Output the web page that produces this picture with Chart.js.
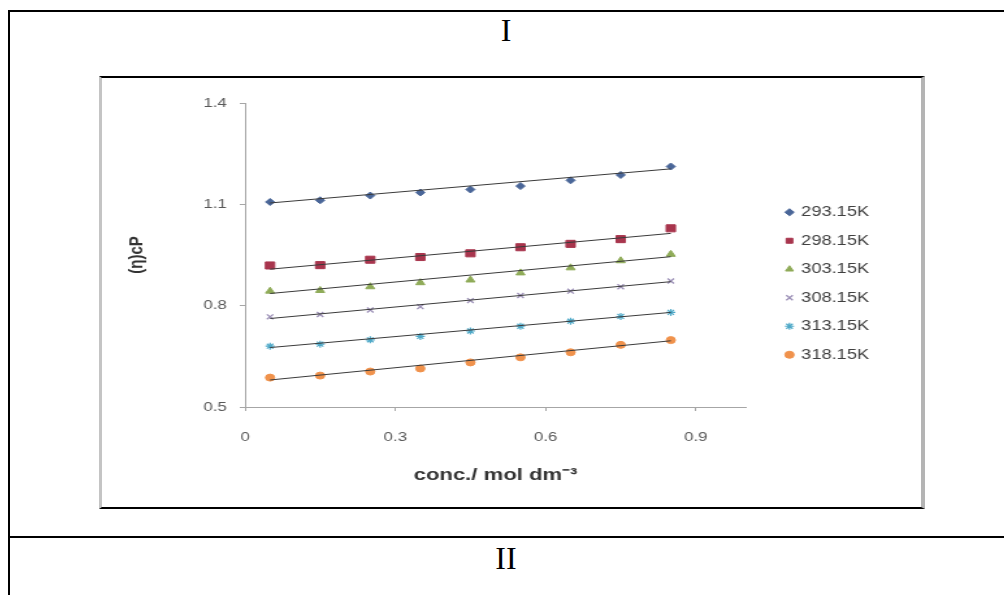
<!DOCTYPE html>
<html>
<head>
<meta charset="utf-8">
<script src="https://cdn.jsdelivr.net/npm/chart.js@4/dist/chart.umd.min.js"></script>
<style>
html,body{margin:0;padding:0;background:#fff;}
body{width:1004px;height:595px;overflow:hidden;position:relative;}
.hl{position:absolute;background:#000;}
.lbl{position:absolute;left:8px;width:996px;text-align:center;font-family:'Liberation Serif','Times New Roman',serif;font-size:32px;line-height:32px;color:#000;}
#box{position:absolute;left:99px;top:76px;width:826px;height:433px;box-sizing:border-box;border-top:2px solid #000;border-bottom:2px solid #000;border-left:3px solid #c4c4c4;border-right:4px solid #b4b4b4;background:#fff;overflow:hidden;}
#wrap{position:absolute;left:0;top:0;width:630px;height:429px;transform:scaleX(1.3);transform-origin:0 0;}
</style>
</head>
<body>
<div class="hl" style="left:8px;top:10px;width:996px;height:2px"></div>
<div class="hl" style="left:8px;top:10px;width:2px;height:585px"></div>
<div class="hl" style="left:8px;top:536px;width:996px;height:2px"></div>
<div class="lbl" style="top:14px">I</div>
<div class="lbl" style="top:542px">II</div>
<div id="box"><div id="wrap"><canvas id="c" width="630" height="429"></canvas></div></div>
<script>
// ---- data ----
const concentrations = [0.05, 0.15, 0.25, 0.35, 0.45, 0.55, 0.65, 0.75, 0.85];
const seriesLabels = ['293.15K', '298.15K', '303.15K', '308.15K', '313.15K', '318.15K'];
const visc293 = [1.107, 1.112, 1.126, 1.135, 1.144, 1.154, 1.171, 1.187, 1.212];
const visc298 = [0.919, 0.920, 0.936, 0.944, 0.955, 0.973, 0.983, 0.997, 1.029];
const visc303 = [0.843, 0.845, 0.856, 0.868, 0.876, 0.897, 0.912, 0.933, 0.952];
const visc308 = [0.767, 0.774, 0.787, 0.797, 0.815, 0.830, 0.843, 0.856, 0.873];
const visc313 = [0.680, 0.686, 0.699, 0.709, 0.725, 0.739, 0.754, 0.768, 0.780];
const visc318 = [0.587, 0.593, 0.605, 0.614, 0.632, 0.647, 0.662, 0.684, 0.698];
const trendX = [0.05, 0.85];
const trend293 = [1.104, 1.205];
const trend298 = [0.908, 1.014];
const trend303 = [0.836, 0.945];
const trend308 = [0.762, 0.871];
const trend313 = [0.676, 0.780];
const trend318 = [0.580, 0.696];
const xTickValues = [0, 0.3, 0.6, 0.9];
const yTickValues = [0.5, 0.8, 1.1, 1.4];
const xTitle = 'conc./ mol dm\u207B\u00B3';
const yTitle = '(\u03B7)cP';

// ---- styling ----
const allValues = [visc293, visc298, visc303, visc308, visc313, visc318];
const allTrends = [trend293, trend298, trend303, trend308, trend313, trend318];
const markerStyles = [
  {shape: 'rectRot', color: '#4a6698', radius: 3.5, bw: 1},
  {shape: 'rect', color: '#a8354d', radius: 5, bw: 1},
  {shape: 'triangle', color: '#8fab58', radius: 4, bw: 1},
  {shape: 'crossRot', color: '#9b8fb6', radius: 3.5, bw: 1.3},
  {shape: 'star', color: '#4fa9c8', radius: 3.5, bw: 1.2},
  {shape: 'circle', color: '#f0924c', radius: 3.5, bw: 1}
];

Chart.defaults.font.family = "'Liberation Sans', Arial, sans-serif";

const datasets = [];
seriesLabels.forEach((name, i) => {
  const st = markerStyles[i];
  datasets.push({
    label: name,
    data: concentrations.map((x, j) => ({x: x, y: allValues[i][j]})),
    showLine: false,
    pointStyle: st.shape,
    pointRadius: st.radius,
    pointHoverRadius: st.radius,
    pointBackgroundColor: st.color,
    pointBorderColor: st.color,
    pointBorderWidth: st.bw,
    backgroundColor: st.color,
    borderColor: st.color,
    order: 1
  });
});
seriesLabels.forEach((name, i) => {
  datasets.push({
    label: name + ' trend',
    isTrend: true,
    data: trendX.map((x, j) => ({x: x, y: allTrends[i][j]})),
    showLine: true,
    borderColor: '#3a3a3a',
    borderWidth: 1,
    pointRadius: 0,
    pointHoverRadius: 0,
    fill: false,
    order: 0
  });
});

const axisGray = '#a6a6a6';
const hidden = {display: true, grid: {display: false}, ticks: {display: false}, border: {display: false}};

new Chart(document.getElementById('c'), {
  type: 'scatter',
  data: {datasets: datasets},
  options: {
    responsive: false,
    animation: false,
    events: [],
    layout: {padding: {left: 0, top: 0, right: 30, bottom: 18}},
    plugins: {
      tooltip: {enabled: false},
      title: {display: false},
      legend: {
        display: true,
        position: 'right',
        maxWidth: 92,
        labels: {
          usePointStyle: true,
          boxWidth: 4,
          boxHeight: 5,
          padding: 14.5,
          color: '#404040',
          font: {size: 14},
          filter: (item, data) => !data.datasets[item.datasetIndex].isTrend
        }
      }
    },
    scales: {
      x: {
        type: 'linear',
        position: 'bottom',
        min: 0,
        max: 1.0,
        afterBuildTicks: s => { s.ticks = xTickValues.map(v => ({value: v})); },
        afterFit: s => { s.height = 82; },
        ticks: {padding: 19, color: '#595959', font: {size: 13}, callback: v => String(v)},
        grid: {display: true, drawOnChartArea: false, drawTicks: true, tickLength: 4, color: axisGray},
        border: {display: true, color: axisGray, width: 1},
        title: {display: true, text: xTitle, color: '#333333', font: {size: 17, weight: 'bold'}, padding: {top: 0, bottom: 3}}
      },
      y: {
        type: 'linear',
        position: 'left',
        min: 0.5,
        max: 1.4,
        afterBuildTicks: s => { s.ticks = yTickValues.map(v => ({value: v})); },
        afterFit: s => { s.width = 110; },
        ticks: {padding: 10, color: '#595959', font: {size: 13}, callback: v => String(v)},
        grid: {display: true, drawOnChartArea: false, drawTicks: true, tickLength: 4, color: axisGray},
        border: {display: true, color: axisGray, width: 1},
        title: {display: true, text: yTitle, color: '#333333', font: {size: 15, weight: 'bold'}, padding: {top: 18, bottom: 0}}
      },
      x2: Object.assign({type: 'linear', position: 'top', afterFit: s => { s.height = 25; }}, hidden),
      y2: Object.assign({type: 'linear', position: 'right', afterFit: s => { s.width = 17; }}, hidden)
    }
  }
});
</script>
</body>
</html>
